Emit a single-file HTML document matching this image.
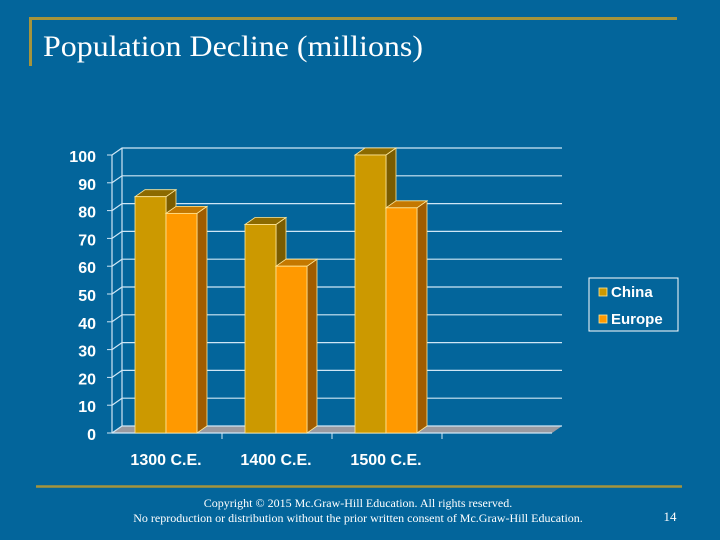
<!DOCTYPE html>
<html><head><meta charset="utf-8"><style>
html,body{margin:0;padding:0;background:#03659b;}
svg{display:block;}
</style></head><body>
<svg width="720" height="540" viewBox="0 0 720 540" xmlns="http://www.w3.org/2000/svg">
<rect width="720" height="540" fill="#03659b"/>
<line x1="29" y1="18.5" x2="677" y2="18.5" stroke="#a5943c" stroke-width="3"/>
<line x1="30.5" y1="17" x2="30.5" y2="66" stroke="#a5943c" stroke-width="3"/>
<text x="43" y="56" font-family="Liberation Serif, serif" font-size="30" textLength="380" lengthAdjust="spacingAndGlyphs" fill="#fff">Population Decline (millions)</text>
<g id="chart"></g>
<rect x="589" y="278" width="89" height="53" fill="none" stroke="#fff" stroke-width="1"/>
<rect x="599" y="288" width="8" height="8" fill="#cc9900" stroke="#ffe89a" stroke-width="0.8"/>
<text x="611" y="297" font-family="Liberation Sans, sans-serif" font-weight="bold" font-size="15" fill="#fff">China</text>
<rect x="599" y="315" width="8" height="8" fill="#ff9900" stroke="#ffe89a" stroke-width="0.8"/>
<text x="611" y="324" font-family="Liberation Sans, sans-serif" font-weight="bold" font-size="15" fill="#fff">Europe</text>
<line x1="36" y1="486.5" x2="682" y2="486.5" stroke="#a5943c" stroke-width="2.5"/>
<text x="358" y="507" text-anchor="middle" font-family="Liberation Serif, serif" font-size="12" fill="#fff">Copyright © 2015 Mc.Graw-Hill Education. All rights reserved.</text>
<text x="358" y="522" text-anchor="middle" font-family="Liberation Serif, serif" font-size="12" fill="#fff">No reproduction or distribution without the prior written consent of Mc.Graw-Hill Education.</text>
<text x="670" y="521" text-anchor="middle" font-family="Liberation Serif, serif" font-size="13" fill="#fff">14</text>
</svg>
<script>
const categories = ["1300 C.E.", "1400 C.E.", "1500 C.E.", ""];
const china = [85, 75, 100];
const europe = [79, 60, 81];
const ticks = [0,10,20,30,40,50,60,70,80,90,100];

const NS = "http://www.w3.org/2000/svg";
const g = document.getElementById("chart");
const x0 = 112, catW = 110, y0 = 433, yScale = 2.78, dx = 10, dy = -7;
const yv = v => y0 - v * yScale;
function el(tag, attrs, parent) {
  const e = document.createElementNS(NS, tag);
  for (const k in attrs) e.setAttribute(k, attrs[k]);
  (parent || g).appendChild(e);
  return e;
}
const xEnd = x0 + catW * categories.length;
const floor = el("polygon", {points: `${x0},${y0} ${xEnd},${y0} ${xEnd+dx},${y0+dy} ${x0+dx},${y0+dy}`, fill: "#9a9aa0"});


ticks.forEach(t => {
  const gl = el("polyline", {points: `${x0},${yv(t)} ${x0+dx},${yv(t)+dy} ${xEnd+dx},${yv(t)+dy}`, fill: "none", stroke: "#cfe6f5", "stroke-width": 1.2});
  
  
  const lb = el("text", {x: 96, y: yv(t) + 7, "text-anchor": "end", "font-family": "Liberation Sans, sans-serif", "font-weight": "bold", "font-size": 16, fill: "#fff"});
  lb.textContent = t;
  
  
  const tk = el("line", {x1: x0 - 5, y1: yv(t), x2: x0, y2: yv(t), stroke: "#cfe6f5"});
  
  
});
const wall = el("line", {x1: x0+dx, y1: yv(0)+dy, x2: x0+dx, y2: yv(100)+dy, stroke: "#cfe6f5", "stroke-width": 1.2});


const ax = el("line", {x1: x0, y1: yv(0), x2: x0, y2: yv(100), stroke: "#cfe6f5", "stroke-width": 1.2});


const ax2 = el("line", {x1: x0, y1: y0, x2: xEnd, y2: y0, stroke: "#cfe6f5", "stroke-width": 1.2});



function bar(x, w, v, front, top, side, name) {
  const yt = yv(v);
  const s = el("polygon", {points: `${x+w},${yt} ${x+w+dx},${yt+dy} ${x+w+dx},${y0+dy} ${x+w},${y0}`, fill: side, stroke: "#ffe89a", "stroke-width": 0.8});
  
  
  const t = el("polygon", {points: `${x},${yt} ${x+dx},${yt+dy} ${x+w+dx},${yt+dy} ${x+w},${yt}`, fill: top, stroke: "#ffe89a", "stroke-width": 0.8});
  
  
  const f = el("rect", {x: x, y: yt, width: w, height: y0 - yt, fill: front, stroke: "#ffe89a", "stroke-width": 0.8});
  
  
}
categories.forEach((c, i) => {
  const cx = x0 + catW * i;
  if (i < china.length) {
    bar(cx + 23, 31, china[i], "#cc9900", "#8c6a00", "#7a5c00", "bar-china-" + i);
  }
  if (i < europe.length) {
    bar(cx + 54, 31, europe[i], "#ff9900", "#c47800", "#a05c00", "bar-europe-" + i);
  }
  if (i > 0) {
    const tk = el("line", {x1: cx, y1: y0, x2: cx, y2: y0 + 6, stroke: "#cfe6f5"});
    
    
  }
  if (c) {
    const lb = el("text", {x: cx + 54, y: y0 + 32, "text-anchor": "middle", "font-family": "Liberation Sans, sans-serif", "font-weight": "bold", "font-size": 16, fill: "#fff"});
    lb.textContent = c;
    
    
  }
});
</script>
</body></html>
